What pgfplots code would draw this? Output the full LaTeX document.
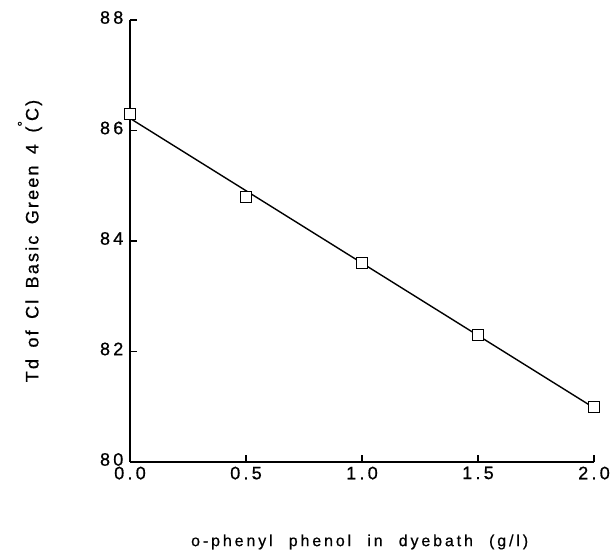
\documentclass[border=0pt]{standalone}
\usepackage{fontspec}
\setmainfont{Liberation Sans}
\newfontfamily\tickfont[LetterSpace=18, FakeBold=0.8]{Liberation Sans}
\newfontfamily\ylabfont[LetterSpace=12, WordSpace=1.6, FakeBold=0.6]{Liberation Sans}
\newfontfamily\xlabfont[LetterSpace=18, WordSpace=2.2, FakeBold=0.6]{Liberation Sans}
\usepackage{pgfplots}
\pgfplotsset{compat=1.18}

\begin{document}
\begin{tikzpicture}
\begin{axis}[
    scale only axis, width=464pt, height=442pt,
    xmin=0, xmax=2, ymin=80, ymax=88,
    axis x line*=bottom, axis y line*=left,
    axis line style={line width=1.6pt},
    tick align=inside, major tick length=7pt,
    tick style={line width=1.2pt, black},
    xtick={0,0.5,1,1.5,2}, ytick={80,82,84,86,88},
    minor tick num=0,
    tick label style={font=\tickfont\fontsize{18}{20}\selectfont,
                      /pgf/number format/assume math mode=true},
    xticklabel style={inner sep=0pt, yshift=-4.5pt, /pgf/number format/.cd, fixed, fixed zerofill, precision=1},
    yticklabel style={inner sep=0pt, xshift=-6.5pt, yshift=2.5pt, /pgf/number format/.cd, fixed, precision=0},
    clip=false,
    every axis x label/.style={at={(axis description cs:0.495,0)}, anchor=center, yshift=-80pt},
    every axis y label/.style={at={(axis description cs:-0.2155,0.5)}, rotate=90, anchor=center},
    xlabel={\xlabfont\fontsize{16}{18}\selectfont o-phenyl phenol in dyebath (g/l)},
    ylabel={\ylabfont\fontsize{18}{20}\selectfont Td of Cl Basic Green 4 (\raisebox{0.6em}{\fontsize{14}{14}\selectfont °}C)},
]
% fitted line
\addplot[line width=1.4pt, black, no marks]
    coordinates {(0, 86.22) (2, 80.98)};
% measured points
\addplot[only marks, mark=square*, mark size=5.5pt,
         mark options={fill=white, draw=black, line width=1.4pt}]
    coordinates {(0, 86.3) (0.5, 84.8) (1.0, 83.6) (1.5, 82.3) (2.0, 81.0)};
\end{axis}
\path (-130pt,-89pt) rectangle (480pt,462pt);
\end{tikzpicture}
\end{document}
